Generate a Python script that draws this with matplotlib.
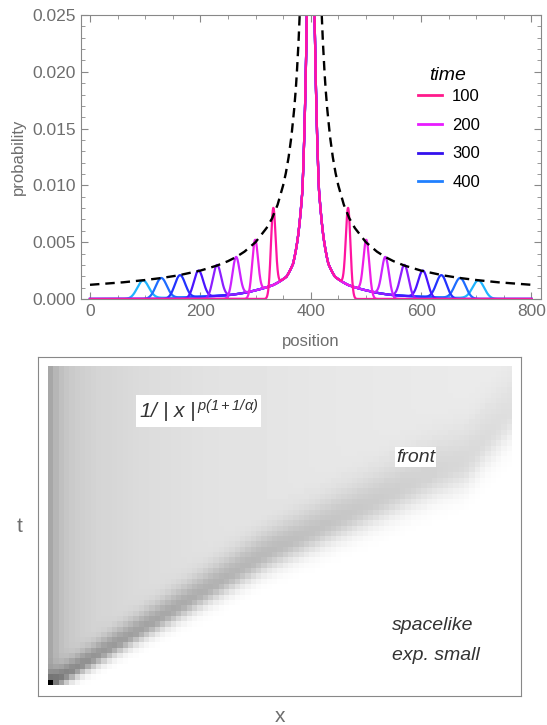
import numpy as np
import matplotlib.pyplot as plt
from matplotlib.lines import Line2D
from matplotlib.ticker import MultipleLocator, FormatStrFormatter

plt.rcParams['font.family'] = ['Liberation Sans', 'DejaVu Sans']
plt.rcParams['mathtext.fontset'] = 'custom'
plt.rcParams['mathtext.rm'] = 'Liberation Sans:italic'
plt.rcParams['mathtext.it'] = 'Liberation Sans:italic'

# ---- top panel data ----
center = 400
# front peaks: distance from centre, peak height, width (outer -> inner)
peak_offsets = [304, 271, 237, 203.5, 170, 135.5, 101, 68]
peak_heights = [0.00163, 0.00185, 0.0021, 0.0025, 0.0030, 0.0037, 0.0052, 0.0080]
peak_widths = [10.5, 10.0, 9.4, 8.5, 7.5, 6.5, 5.3, 4.2]
peak_colors = ['#1eb4ff', '#1e6cff', '#2233ff', '#4a14ff',
               '#8c1eff', '#cc22ff', '#ee1ee6', '#ff14a0']

# central cusp profile: distance from centre -> probability
tail_dist = [0, 3, 7, 15, 23, 32, 44, 68, 98, 147, 250, 400]
tail_prob = [0.08, 0.045, 0.025, 0.0096, 0.0055, 0.0031, 0.00196,
             0.00123, 0.00079, 0.00035, 0.00012, 0.00004]

# dashed envelope
env_dist = [20, 22, 25, 27, 30, 35, 40, 45, 50, 60, 70, 80, 100, 120, 135,
            150, 170, 200, 240, 270, 300, 340, 400]
env_prob = [0.025, 0.0227, 0.020, 0.0185, 0.0167, 0.0143, 0.0125, 0.0111,
            0.010, 0.0083, 0.0071, 0.00625, 0.005, 0.00417, 0.0037,
            0.00333, 0.00294, 0.0025, 0.00208, 0.00185, 0.00167, 0.00147,
            0.00125]

legend_times = ['100', '200', '300', '400']
legend_colors = ['#ff1a8c', '#e81cff', '#3311ee', '#2080ff']

# ---- bottom panel data ----
col_frac = [0, 0.012, 0.024, 0.036, 0.06, 0.1, 0.2, 0.35, 0.6, 1.0]
col_gray = [0.62, 0.69, 0.74, 0.77, 0.80, 0.83, 0.86, 0.885, 0.905, 0.925]
front_fx = [0, 0.47, 0.83, 0.9, 1.0]
front_fy = [0, 0.41, 0.66, 0.70, 0.86]

fig = plt.figure(figsize=(5.47, 7.25), dpi=100)
gray = '#6e6e6e'

ax = fig.add_axes([81 / 547, 1 - 299 / 725, 459.7 / 547, 284 / 725])
x = np.linspace(0, 800, 3201)
d = np.abs(x - center)
tail = np.exp(np.interp(d, tail_dist, np.log(tail_prob)))
for off, h, w, c in zip(peak_offsets, peak_heights, peak_widths, peak_colors):
    inner = tail / (1 + np.exp((d - off) / (0.6 * w)))
    t_at = np.exp(np.interp(off, tail_dist, np.log(tail_prob)))
    bump = (h - 0.5 * t_at) * np.exp(-0.5 * ((d - off) / w) ** 2)
    ax.plot(x, inner + bump, color=c, lw=1.6)

ex = np.concatenate([center - np.array(env_dist[::-1]), center + np.array(env_dist)])
ey = np.concatenate([env_prob[::-1], env_prob])
n = len(env_dist)
ax.plot(ex[:n], ey[:n], color='black', lw=1.7, dashes=(4, 2.5))
ax.plot(ex[n:], ey[n:], color='black', lw=1.7, dashes=(4, 2.5))

ax.set_xlim(-16.3, 816.8)
ax.set_ylim(0, 0.025)
ax.xaxis.set_major_locator(MultipleLocator(200))
ax.xaxis.set_minor_locator(MultipleLocator(50))
ax.yaxis.set_major_locator(MultipleLocator(0.005))
ax.yaxis.set_minor_locator(MultipleLocator(0.001))
ax.yaxis.set_major_formatter(FormatStrFormatter('%.3f'))
ax.tick_params(which='both', direction='in', top=True, right=True,
               color='#888888', labelcolor=gray, labelsize=12.5)
ax.tick_params(which='major', length=5)
ax.tick_params(which='minor', length=3)
for s in ax.spines.values():
    s.set_color('#888888')

handles = [Line2D([], [], color=c, lw=2) for c in legend_colors]
leg = ax.legend(handles, legend_times, loc='upper left',
                bbox_to_anchor=(418 / 547, 1 - 89 / 725), bbox_transform=fig.transFigure,
                frameon=False, fontsize=12,
                handlelength=1.45, handletextpad=0.6, labelspacing=0.82,
                borderpad=0, borderaxespad=0)
fig.text(448 / 547, 1 - 75 / 725, 'time', ha='center', va='center',
         style='italic', fontsize=14, color='black')

fig.text(18.5 / 547, 1 - 157 / 725, 'probability', rotation=90, ha='center',
         va='center', color=gray, fontsize=12)
fig.text(311 / 547, 1 - 342 / 725, 'position', ha='center', va='center',
         color=gray, fontsize=12)

# ---- bottom panel ----
ax2 = fig.add_axes([38 / 547, 1 - 696 / 725, 483 / 547, 339 / 725])
ncol, nrow = 87, 60
fx = (np.arange(ncol) + 0.5) / ncol
fy = (np.arange(nrow) + 0.5) / nrow
FX, FY = np.meshgrid(fx, fy)
base = np.interp(FX, col_frac, col_gray)
front = np.interp(FX, front_fx, front_fy)
dd = FY - front
wid = 0.035 + 0.08 * FX
depth = 0.22 * (1 - FX) + 0.05
inside = base - depth * np.exp(-(dd / wid) ** 2)
outside = 1 - (1 - (base - depth)) * np.exp(-(dd / (0.75 * wid)) ** 2)
img = np.where(dd >= 0, inside, outside)
img[0, 0] = 0.0
img = np.clip(img, 0, 1)
ax2.imshow(img, cmap='gray', vmin=0, vmax=1, origin='lower', aspect='auto',
           interpolation='nearest',
           extent=[10 / 483, 474 / 483, 11 / 339, 330 / 339])
ax2.set_xlim(0, 1)
ax2.set_ylim(0, 1)
ax2.set_xticks([])
ax2.set_yticks([])
for s in ax2.spines.values():
    s.set_color('#888888')

tcol = '#333333'
ax2.text((139 - 38) / 483, (696 - 411) / 339, r'$1/\ |\ x\ |^{\,p(1+1/\alpha)}$',
         fontsize=15, color=tcol, va='center', ha='left',
         bbox=dict(facecolor='white', edgecolor='none', pad=2))
ax2.text((396 - 38) / 483, (696 - 457) / 339, 'front', fontsize=14,
         style='italic', color=tcol, va='center', ha='left',
         bbox=dict(facecolor='white', edgecolor='none', pad=1))
ax2.text((392 - 38) / 483, (696 - 625) / 339, 'spacelike', fontsize=14,
         style='italic', color=tcol, va='center', ha='left')
ax2.text((392 - 38) / 483, (696 - 656) / 339, 'exp. small', fontsize=14,
         style='italic', color=tcol, va='center', ha='left')

fig.text(20 / 547, 1 - 527 / 725, 't', ha='center', va='center', color=gray, fontsize=15)
fig.text(280 / 547, 1 - 716 / 725, 'x', ha='center', va='center', color=gray, fontsize=15)

fig.savefig('out.png', dpi=100)
